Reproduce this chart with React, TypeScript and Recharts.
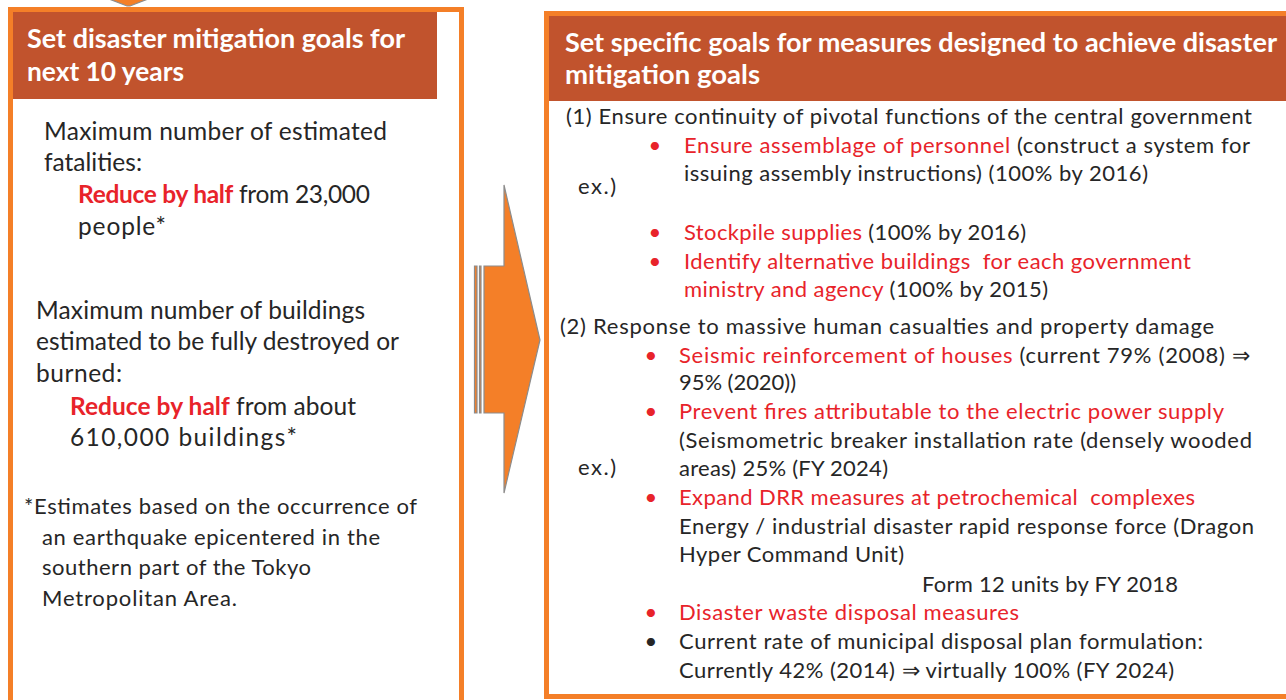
import React from "react";
import { ComposedChart, Customized, Rectangle, Polygon } from "recharts";

type Seg = { t: string; red?: boolean; bold?: boolean };
type BLine = { segs: Seg[]; bullet?: "red" | "black" };

const leftHeaderLines = ["Set disaster mitigation goals for", "next 10 years"];
const rightHeaderLines = [
  "Set specific goals for measures designed to achieve disaster",
  "mitigation goals",
];

const fatalitiesLines: Seg[][] = [
  [{ t: "Maximum number of estimated" }],
  [{ t: "fatalities:" }],
  [{ t: "Reduce by half", red: true, bold: true }, { t: " from 23,000" }],
  [{ t: "people*" }],
];

const buildingsLines: Seg[][] = [
  [{ t: "Maximum number of buildings" }],
  [{ t: "estimated to be fully destroyed or" }],
  [{ t: "burned:" }],
  [{ t: "Reduce by half", red: true, bold: true }, { t: " from about" }],
  [{ t: "610,000 buildings*" }],
];

const footnoteLines = [
  "*Estimates based on the occurrence of",
  "an earthquake epicentered in the",
  "southern part of the Tokyo",
  "Metropolitan Area.",
];

const section1Title = "(1) Ensure continuity of pivotal functions of the central government";
const section1Lines: BLine[] = [
  { bullet: "red", segs: [{ t: "Ensure assemblage of personnel", red: true }, { t: " (construct a system for" }] },
  { segs: [{ t: "issuing assembly instructions) (100% by 2016)" }] },
  { bullet: "red", segs: [{ t: "Stockpile supplies", red: true }, { t: " (100% by 2016)" }] },
  { bullet: "red", segs: [{ t: "Identify alternative buildings  for each government", red: true }] },
  { segs: [{ t: "ministry and agency", red: true }, { t: " (100% by 2015)" }] },
];

const section2Title = "(2) Response to massive human casualties and property damage";
const section2Lines: BLine[] = [
  { bullet: "red", segs: [{ t: "Seismic reinforcement of houses", red: true }, { t: " (current 79% (2008) \u21D2" }] },
  { segs: [{ t: "95% (2020))" }] },
  { bullet: "red", segs: [{ t: "Prevent fires attributable to the electric power supply", red: true }] },
  { segs: [{ t: "(Seismometric breaker installation rate (densely wooded" }] },
  { segs: [{ t: "areas) 25% (FY 2024)" }] },
  { bullet: "red", segs: [{ t: "Expand DRR measures at petrochemical  complexes", red: true }] },
  { segs: [{ t: "Energy / industrial disaster rapid response force (Dragon" }] },
  { segs: [{ t: "Hyper Command Unit)" }] },
  { segs: [{ t: "Form 12 units by FY 2018" }] },
  { bullet: "red", segs: [{ t: "Disaster waste disposal measures", red: true }] },
  { bullet: "black", segs: [{ t: "Current rate of municipal disposal plan formulation:" }] },
  { segs: [{ t: "Currently 42% (2014) \u21D2 virtually 100% (FY 2024)" }] },
];

const exLabel = "ex.)";

const FONT = "Lato, 'Open Sans', sans-serif";
const ORANGE = "#F47F28";
const HEADER = "#C1532D";
const RED = "#E8232A";
const INK = "#262626";

const SegText = ({ segs, x, y, right, size }: { segs: Seg[]; x: number; y: number; right: number; size: number }) => (
  <text
    x={x}
    y={y}
    fontFamily={FONT}
    fontSize={size}
    fill={INK}
    textLength={right - x}
    lengthAdjust="spacing"
  >
    {segs.map((s, i) => (
      <tspan key={i} fill={s.red ? RED : INK} fontWeight={s.bold ? 700 : 400} style={{ whiteSpace: "pre" }}>
        {s.t}
      </tspan>
    ))}
  </text>
);

const Diagram = () => {
  // layout (positions in px)
  const fatLayout = [
    { x: 44, y: 140, r: 387 },
    { x: 44, y: 171, r: 142 },
    { x: 78, y: 203, r: 370 },
    { x: 78, y: 235, r: 166 },
  ];
  const bldLayout = [
    { x: 36, y: 319, r: 365 },
    { x: 36, y: 350, r: 399 },
    { x: 36, y: 382, r: 122 },
    { x: 70, y: 415, r: 356 },
    { x: 70, y: 446, r: 297 },
  ];
  const footLayout = [
    { x: 24, y: 514, r: 417 },
    { x: 42, y: 545, r: 380 },
    { x: 42, y: 575, r: 311 },
    { x: 42, y: 606, r: 237 },
  ];
  const s1Layout = [
    { x: 684, y: 153, r: 1250 },
    { x: 684, y: 181, r: 1148 },
    { x: 684, y: 240, r: 1026 },
    { x: 684, y: 269, r: 1191 },
    { x: 684, y: 297, r: 1048 },
  ];
  const s2Layout = [
    { x: 679, y: 363, r: 1250 },
    { x: 679, y: 390, r: 796 },
    { x: 679, y: 419, r: 1224 },
    { x: 679, y: 448, r: 1252 },
    { x: 679, y: 476, r: 888 },
    { x: 679, y: 505, r: 1195 },
    { x: 679, y: 534, r: 1254 },
    { x: 679, y: 562, r: 904 },
    { x: 922, y: 592, r: 1178 },
    { x: 679, y: 620, r: 1019 },
    { x: 679, y: 649, r: 1203 },
    { x: 679, y: 678, r: 1174 },
  ];
  const leftHeadLayout = [
    { x: 27, y: 48, r: 405 },
    { x: 27, y: 81, r: 184 },
  ];
  const rightHeadLayout = [
    { x: 565, y: 52, r: 1277 },
    { x: 565, y: 84, r: 760 },
  ];

  const bodyR = 22;
  const bodyL = 24.5;

  return (
    <g>
      {/* top arrow tip */}
      <Polygon
        points={[
          { x: 109, y: -1 },
          { x: 148, y: -1 },
          { x: 130, y: 6 },
          { x: 127, y: 6 },
        ]}
        fill={ORANGE}
        stroke="#8C8C8C"
        strokeWidth={1.2}
      />

      {/* left box */}
      <Rectangle x={10.5} y={9.5} width={451} height={710} fill="#FFFFFF" stroke={ORANGE} strokeWidth={5} />
      <Rectangle x={13} y={12} width={424} height={87} fill={HEADER} />

      {/* right box */}
      <Rectangle x={546.5} y={13.5} width={760} height={683} fill="#FFFFFF" stroke={ORANGE} strokeWidth={5} />
      <Rectangle x={549} y={16} width={740} height={85} fill={HEADER} />

      {/* middle striped arrow */}
      <Rectangle x={474.5} y={266} width={2.5} height={147} fill={ORANGE} stroke="#8C8C8C" strokeWidth={1.2} />
      <Rectangle x={479.5} y={266} width={1.5} height={147} fill={ORANGE} stroke="#8C8C8C" strokeWidth={1.2} />
      <Polygon
        points={[
          { x: 484, y: 266 },
          { x: 504, y: 266 },
          { x: 504, y: 185 },
          { x: 540, y: 340 },
          { x: 504, y: 493 },
          { x: 504, y: 413 },
          { x: 484, y: 413 },
        ]}
        fill={ORANGE}
        stroke="#8C8C8C"
        strokeWidth={1.2}
      />

      {/* headers */}
      {leftHeaderLines.map((t, i) => (
        <text
          key={`lh${i}`}
          x={leftHeadLayout[i].x}
          y={leftHeadLayout[i].y}
          fontFamily={FONT}
          fontSize={26}
          fontWeight={700}
          fill="#FFFFFF"
          textLength={leftHeadLayout[i].r - leftHeadLayout[i].x}
          lengthAdjust="spacingAndGlyphs"
        >
          {t}
        </text>
      ))}
      {rightHeaderLines.map((t, i) => (
        <text
          key={`rh${i}`}
          x={rightHeadLayout[i].x}
          y={rightHeadLayout[i].y}
          fontFamily={FONT}
          fontSize={26}
          fontWeight={700}
          fill="#FFFFFF"
          textLength={rightHeadLayout[i].r - rightHeadLayout[i].x}
          lengthAdjust="spacingAndGlyphs"
        >
          {t}
        </text>
      ))}

      {/* left body */}
      {fatalitiesLines.map((segs, i) => (
        <SegText key={`f${i}`} segs={segs} x={fatLayout[i].x} y={fatLayout[i].y} right={fatLayout[i].r} size={bodyL} />
      ))}
      {buildingsLines.map((segs, i) => (
        <SegText key={`b${i}`} segs={segs} x={bldLayout[i].x} y={bldLayout[i].y} right={bldLayout[i].r} size={bodyL} />
      ))}
      {footnoteLines.map((t, i) => (
        <SegText key={`n${i}`} segs={[{ t }]} x={footLayout[i].x} y={footLayout[i].y} right={footLayout[i].r} size={22} />
      ))}

      {/* right body */}
      <SegText segs={[{ t: section1Title }]} x={566} y={124} right={1252} size={bodyR} />
      <SegText segs={[{ t: exLabel }]} x={578} y={194} right={616} size={bodyR} />
      {section1Lines.map((ln, i) => (
        <g key={`s1${i}`}>
          {ln.bullet && (
            <text x={655} y={s1Layout[i].y} fontFamily={FONT} fontSize={bodyR} textAnchor="middle" fill={ln.bullet === "red" ? RED : INK}>
              {"\u2022"}
            </text>
          )}
          <SegText segs={ln.segs} x={s1Layout[i].x} y={s1Layout[i].y} right={s1Layout[i].r} size={bodyR} />
        </g>
      ))}
      <SegText segs={[{ t: section2Title }]} x={560} y={334} right={1214} size={bodyR} />
      <SegText segs={[{ t: exLabel }]} x={578} y={475} right={616} size={bodyR} />
      {section2Lines.map((ln, i) => (
        <g key={`s2${i}`}>
          {ln.bullet && (
            <text x={651} y={s2Layout[i].y} fontFamily={FONT} fontSize={bodyR} textAnchor="middle" fill={ln.bullet === "red" ? RED : INK}>
              {"\u2022"}
            </text>
          )}
          <SegText segs={ln.segs} x={s2Layout[i].x} y={s2Layout[i].y} right={s2Layout[i].r} size={bodyR} />
        </g>
      ))}
    </g>
  );
};

export default function App() {
  return (
    <div style={{ position: "absolute", left: 0, top: 0, width: 1286, height: 700, background: "#FFFFFF" }}>
      <ComposedChart width={1286} height={700} data={[]} margin={{ top: 0, right: 0, bottom: 0, left: 0 }}>
        <Customized component={Diagram} />
      </ComposedChart>
    </div>
  );
}
